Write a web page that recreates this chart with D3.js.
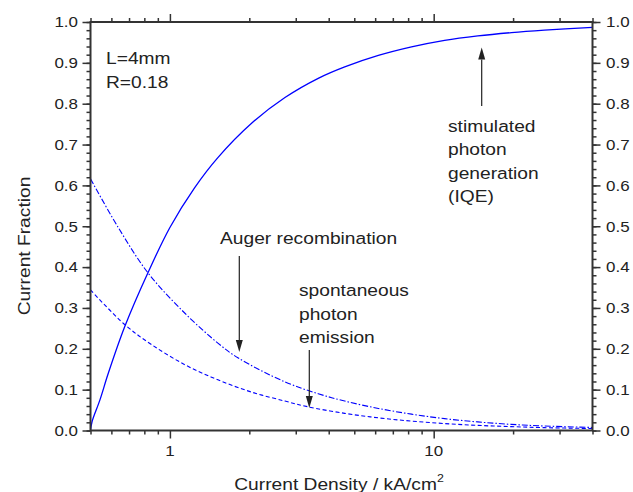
<!DOCTYPE html>
<html>
<head>
<meta charset="utf-8">
<script src="https://cdn.jsdelivr.net/npm/d3@7/dist/d3.min.js"></script>
<style>
  html, body { margin: 0; padding: 0; background: #fff; }
  svg { display: block; }
  text { font-family: Arial, "Liberation Sans", Helvetica, sans-serif; fill: #222; }
</style>
</head>
<body>
<svg id="chart" width="633" height="492"></svg>
<script>
// Current density (kA/cm^2) and current fractions of the three channels
const stimX = [0.5, 0.507, 0.543, 0.584, 0.675, 0.828, 1.0, 1.24, 1.52, 2.04, 2.73, 3.65, 4.6, 6.17, 8.24, 11.0, 14.7, 19.7, 26.3, 40];
const stimY = [0.0, 0.022, 0.075, 0.14, 0.255, 0.388, 0.497, 0.594, 0.668, 0.752, 0.815, 0.862, 0.89, 0.918, 0.939, 0.955, 0.966, 0.974, 0.980, 0.987];

const augerX = [0.5, 0.637, 0.828, 1.14, 1.52, 1.81, 2.73, 3.65, 4.6, 6.17, 8.24, 11.0, 14.7, 19.7, 26.3, 40];
const augerY = [0.616, 0.497, 0.385, 0.287, 0.214, 0.178, 0.119, 0.090, 0.072, 0.054, 0.040, 0.029, 0.021, 0.015, 0.011, 0.0075];

const spontX = [0.5, 0.675, 0.853, 1.14, 1.52, 2.04, 2.73, 3.34, 4.6, 6.17, 8.24, 11.0, 14.7, 19.7, 26.3, 40];
const spontY = [0.344, 0.259, 0.21, 0.161, 0.124, 0.094, 0.072, 0.058, 0.042, 0.031, 0.023, 0.017, 0.0125, 0.0095, 0.007, 0.0048];

// Axis ticks
const xMajor = [1, 10];
const xMajorLabels = ["1", "10"];
const xMinor = [0.5, 0.6, 0.7, 0.8, 0.9, 2, 3, 4, 5, 6, 7, 8, 9, 20, 30, 40];
const yMajor = [0, 0.1, 0.2, 0.3, 0.4, 0.5, 0.6, 0.7, 0.8, 0.9, 1.0];
const yMinor = d3.range(0, 1.0001, 0.02);

const svg = d3.select("#chart");
const plotLeft = 90.5, plotRight = 592.5, plotTop = 22, plotBottom = 430.5;

const x = d3.scaleLog().domain([0.5, 40]).range([plotLeft, plotRight]);
const y = d3.scaleLinear().domain([0, 1]).range([plotBottom, plotTop]);

const SX = 1.13; // glyph width factor

function label(px, py, str, size, anchor, rot) {
  const t = svg.append("text")
    .attr("transform", `translate(${px},${py})` + (rot ? ` rotate(${rot})` : "") + ` scale(${SX},1)`)
    .attr("font-size", size)
    .attr("text-anchor", anchor || "start");
  t.text(str);
  return t;
}

// Curves
const lineGen = d3.line().x(d => x(d[0])).y(d => y(d[1])).curve(d3.curveCatmullRom.alpha(0.5));
const plot = svg.append("g");
plot.append("path").datum(d3.zip(stimX, stimY))
  .attr("d", lineGen).attr("fill", "none").attr("stroke", "#0000ff").attr("stroke-width", 1.3);
plot.append("path").datum(d3.zip(augerX, augerY))
  .attr("d", lineGen).attr("fill", "none").attr("stroke", "#0000ff").attr("stroke-width", 1.1)
  .attr("stroke-dasharray", "6,2,1.5,2");
plot.append("path").datum(d3.zip(spontX, spontY))
  .attr("d", lineGen).attr("fill", "none").attr("stroke", "#0000ff").attr("stroke-width", 1.1)
  .attr("stroke-dasharray", "4,2.5");

// Axes: ticks outward on all four sides
const axisColor = "#333";
function styleAxis(g) {
  g.select(".domain").remove();
  g.selectAll("line").attr("stroke", axisColor).attr("stroke-width", 1.5);
}
svg.append("g").attr("transform", `translate(0,${plotBottom})`)
  .call(d3.axisBottom(x).tickValues(xMinor).tickSize(4).tickFormat(""))
  .call(styleAxis);
svg.append("g").attr("transform", `translate(0,${plotBottom})`)
  .call(d3.axisBottom(x).tickValues(xMajor).tickSize(8).tickFormat(""))
  .call(styleAxis);
svg.append("g").attr("transform", `translate(0,${plotTop})`)
  .call(d3.axisTop(x).tickValues(xMinor).tickSize(4).tickFormat(""))
  .call(styleAxis);
svg.append("g").attr("transform", `translate(0,${plotTop})`)
  .call(d3.axisTop(x).tickValues(xMajor).tickSize(8).tickFormat(""))
  .call(styleAxis);
svg.append("g").attr("transform", `translate(${plotLeft},0)`)
  .call(d3.axisLeft(y).tickValues(yMinor).tickSize(4).tickFormat(""))
  .call(styleAxis);
svg.append("g").attr("transform", `translate(${plotLeft},0)`)
  .call(d3.axisLeft(y).tickValues(yMajor).tickSize(8).tickFormat(""))
  .call(styleAxis);
svg.append("g").attr("transform", `translate(${plotRight},0)`)
  .call(d3.axisRight(y).tickValues(yMinor).tickSize(4).tickFormat(""))
  .call(styleAxis);
svg.append("g").attr("transform", `translate(${plotRight},0)`)
  .call(d3.axisRight(y).tickValues(yMajor).tickSize(8).tickFormat(""))
  .call(styleAxis);

// Frame
svg.append("rect")
  .attr("x", plotLeft).attr("y", plotTop).attr("width", plotRight - plotLeft).attr("height", plotBottom - plotTop)
  .attr("fill", "none").attr("stroke", axisColor).attr("stroke-width", 2);

// Tick labels
yMajor.forEach(v => {
  label(78, y(v) + 5.3, v.toFixed(1), 15, "end");
  label(606, y(v) + 5.3, v.toFixed(1), 15, "start");
});
xMajor.forEach((v, i) => label(x(v), 456, xMajorLabels[i], 15, "middle"));

// Axis titles
const xt = label(339, 489.5, "Current Density / kA/cm", 17, "middle");
xt.append("tspan").attr("font-size", 11).attr("dy", -8).text("2");
label(30, 246, "Current Fraction", 17, "middle", -90);

// Parameters
label(106, 64, "L=4mm", 17);
label(106, 88, "R=0.18", 17);

// Annotations with arrows
const arrowColor = "#222";
function arrow(x0, y0, x1, y1) {
  const dir = Math.sign(y1 - y0), head = 12, half = 3.5;
  svg.append("line").attr("x1", x0).attr("y1", y0).attr("x2", x1).attr("y2", y1 - dir * head)
    .attr("stroke", arrowColor).attr("stroke-width", 1.2);
  svg.append("path")
    .attr("d", `M${x1},${y1} L${x1 - half},${y1 - dir * head} L${x1 + half},${y1 - dir * head} Z`)
    .attr("fill", arrowColor);
}

label(220, 244, "Auger recombination", 17);
arrow(239.3, 256, 239.3, 352);

label(299, 296, "spontaneous", 17);
label(299, 319.5, "photon", 17);
label(299, 343, "emission", 17);
arrow(309.3, 350, 309.3, 408);

label(448, 132, "stimulated", 17);
label(448, 155.3, "photon", 17);
label(448, 178.6, "generation", 17);
label(448, 202, "(IQE)", 17);
arrow(481.7, 106, 481.7, 47.5);
</script>
</body>
</html>
